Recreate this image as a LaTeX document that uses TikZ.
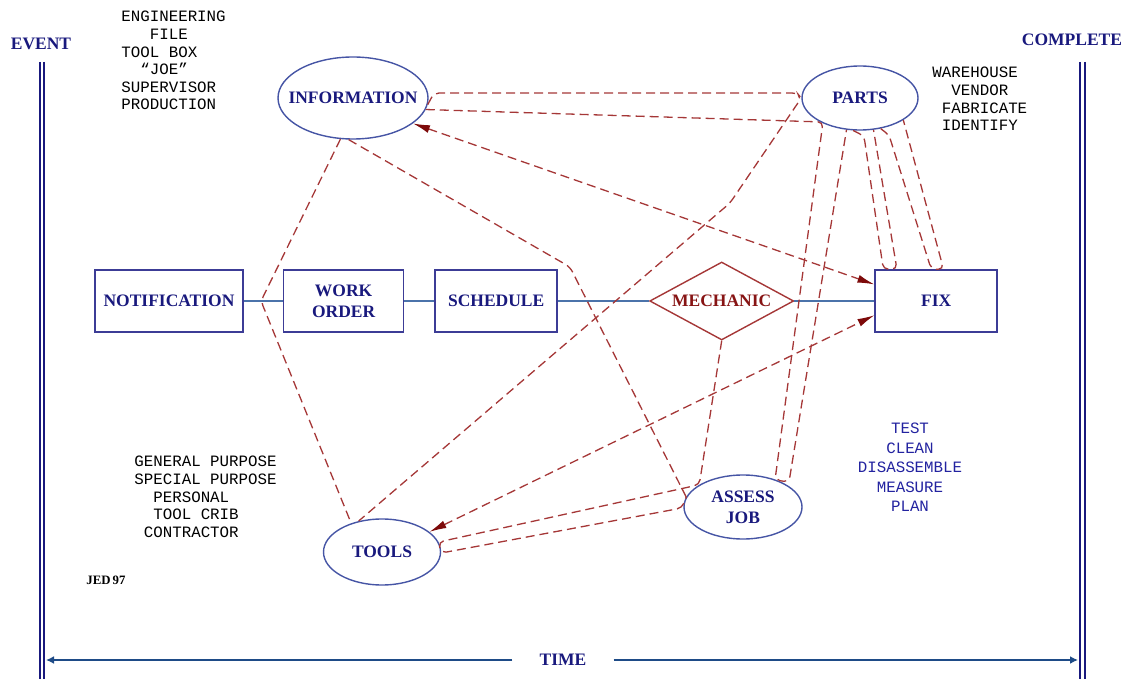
\documentclass[tikz,border=0pt]{standalone}
\usepackage{fontspec}
\setmainfont{Liberation Serif}
\setmonofont{Liberation Mono}
\usetikzlibrary{positioning,shapes.geometric,arrows.meta}

\definecolor{navytext}{RGB}{25,25,125}
\definecolor{boxline}{RGB}{60,60,150}
\definecolor{ovalline}{RGB}{70,85,165}
\definecolor{flowline}{RGB}{75,115,170}
\definecolor{loopred}{RGB}{165,55,55}
\definecolor{tipred}{RGB}{125,10,10}
\definecolor{mechred}{RGB}{135,20,20}
\definecolor{timeblue}{RGB}{30,75,135}
\definecolor{stepblue}{RGB}{35,35,160}

\newcommand{\labelfont}{\fontsize{8.75}{10.5}\selectfont\bfseries}
\newcommand{\notefont}{\ttfamily\fontsize{7.9}{8.8}\selectfont}

\tikzset{box/.style = {draw=boxline, line width=0.8pt, minimum height=31pt, inner sep=0pt, align=center, font=\labelfont, text=navytext}}

\begin{document}
\begin{tikzpicture}[x=0.5pt, y=-0.5pt]
    % Define node styles
    \tikzstyle{oval} = [ellipse, draw=ovalline, line width=0.7pt, inner sep=0pt, align=center, font=\labelfont, text=navytext]
    \tikzstyle{task} = [diamond, draw=loopred, line width=0.7pt, inner sep=0pt, shape aspect=1.85, minimum width=72pt, minimum height=39pt, font=\labelfont, text=mechred]
    \tikzstyle{note} = [anchor=north west, inner sep=0pt, align=left, font=\notefont]
    \tikzstyle{ends} = [font=\labelfont, text=navytext]
    \tikzstyle{flow} = [draw=flowline, line width=0.75pt]
    \tikzstyle{trip} = [draw=loopred, line width=0.65pt, dash pattern=on 4.5pt off 2.5pt, rounded corners=2.5pt]
    \tikzstyle{twoway} = [{Latex[length=8.5pt,width=4pt,color=tipred]}-{Latex[length=8.5pt,width=4pt,color=tipred]}]
    \tikzstyle{rail} = [draw=navytext, line width=0.55pt]
    \tikzstyle{timeline} = [draw=timeblue, line width=1.2pt, -{Latex[length=4pt,width=4pt]}]

    \useasboundingbox (0,0) rectangle (1130,679);

    % Event and complete rails
    \node[ends] (event) at (41,44) {EVENT};
    \node[ends] (complete) at (1072,40) {COMPLETE};
    \draw[rail] (40,62) -- (40,679) (44,62) -- (44,679);
    \draw[rail] (1080,62) -- (1080,679) (1085,62) -- (1085,679);

    % Flow nodes (middle row)
    \node[box, minimum width=74pt] (notif) at (169,301) {NOTIFICATION};
    \node[box, minimum width=60pt] (work) [right=19.5pt of notif] {WORK\\ORDER};
    \node[box, minimum width=61pt] (sched) [right=15pt of work] {SCHEDULE};
    \node[task] (mech) [right=45.5pt of sched] {MECHANIC};
    \node[box, minimum width=61pt] (fix) [right=40pt of mech] {FIX};

    % Resource nodes (ovals)
    \node[oval, minimum width=75pt, minimum height=41pt] (info) at (353,98) {\makebox[0pt]{INFORMATION}};
    \node[oval, minimum width=58pt, minimum height=32pt] (parts) at (860,98) {PARTS};
    \node[oval, minimum width=58.5pt, minimum height=33pt] (tools) at (382,552) {TOOLS};
    \node[oval, minimum width=59pt, minimum height=32pt] (assess) at (743,507) {ASSESS\\JOB};

    % Notes
    \node[note] (infonote) at (121,11) {ENGINEERING\\~~~FILE\\TOOL BOX\\~~“JOE”\\SUPERVISOR\\PRODUCTION};
    \node[note] (partsnote) at (932,67) {WAREHOUSE\\~~VENDOR\\~FABRICATE\\~IDENTIFY};
    \node[note] (toolsnote) at (134,456) {GENERAL PURPOSE\\SPECIAL PURPOSE\\~~PERSONAL\\~~TOOL CRIB\\~CONTRACTOR};
    \node[note, anchor=north, align=center, text=stepblue, font=\ttfamily\fontsize{7.9}{9.75}\selectfont] (fixnote) at (910,423) {TEST\\CLEAN\\DISASSEMBLE\\MEASURE\\PLAN};
    \node[font=\fontsize{6.4}{7}\selectfont\bfseries] (sign) at (106,580) {JED\,97};

    % Main flow
    \draw[flow] (notif) -- (work) -- (sched) -- (mech) -- (fix);

    % Trips between resources
    \draw[trip] (info.-5) -- (434,93) -- (797,93) -- (parts.west) -- (730,203) -- (tools.127);
    \draw[trip] (info.-9) -- (823,122) -- (775,480) -- (789,482) -- (parts.-113);
    \draw[trip] (info.-107) -- (261,301) -- (tools.137);
    \draw[trip] (info.-96) -- (570,267) -- (assess.170);
    \draw[trip] (mech.south) -- (assess.153) -- (tools.10) -- (tools.-1) -- (682,508) -- (assess.170);
    \draw[trip] (parts.-102) -- (864,136) -- (fix.149) -- (fix.141) -- (parts.-67);
    \draw[trip] (parts.-56) -- (889,135) -- (fix.99) -- (fix.77) -- (parts.-27);
    \draw[trip, twoway] (info.-23) -- (fix.165);
    \draw[trip, twoway] (tools.23) -- (fix.193);

    % Time axis
    \node[ends, inner xsep=13.5pt] (time) at (563,660) {TIME};
    \coordinate (tstart) at (46,660);
    \coordinate (tend) at (1078,660);
    \draw[timeline] (time.west) -- (tstart);
    \draw[timeline] (time.east) -- (tend);
\end{tikzpicture}
\end{document}
